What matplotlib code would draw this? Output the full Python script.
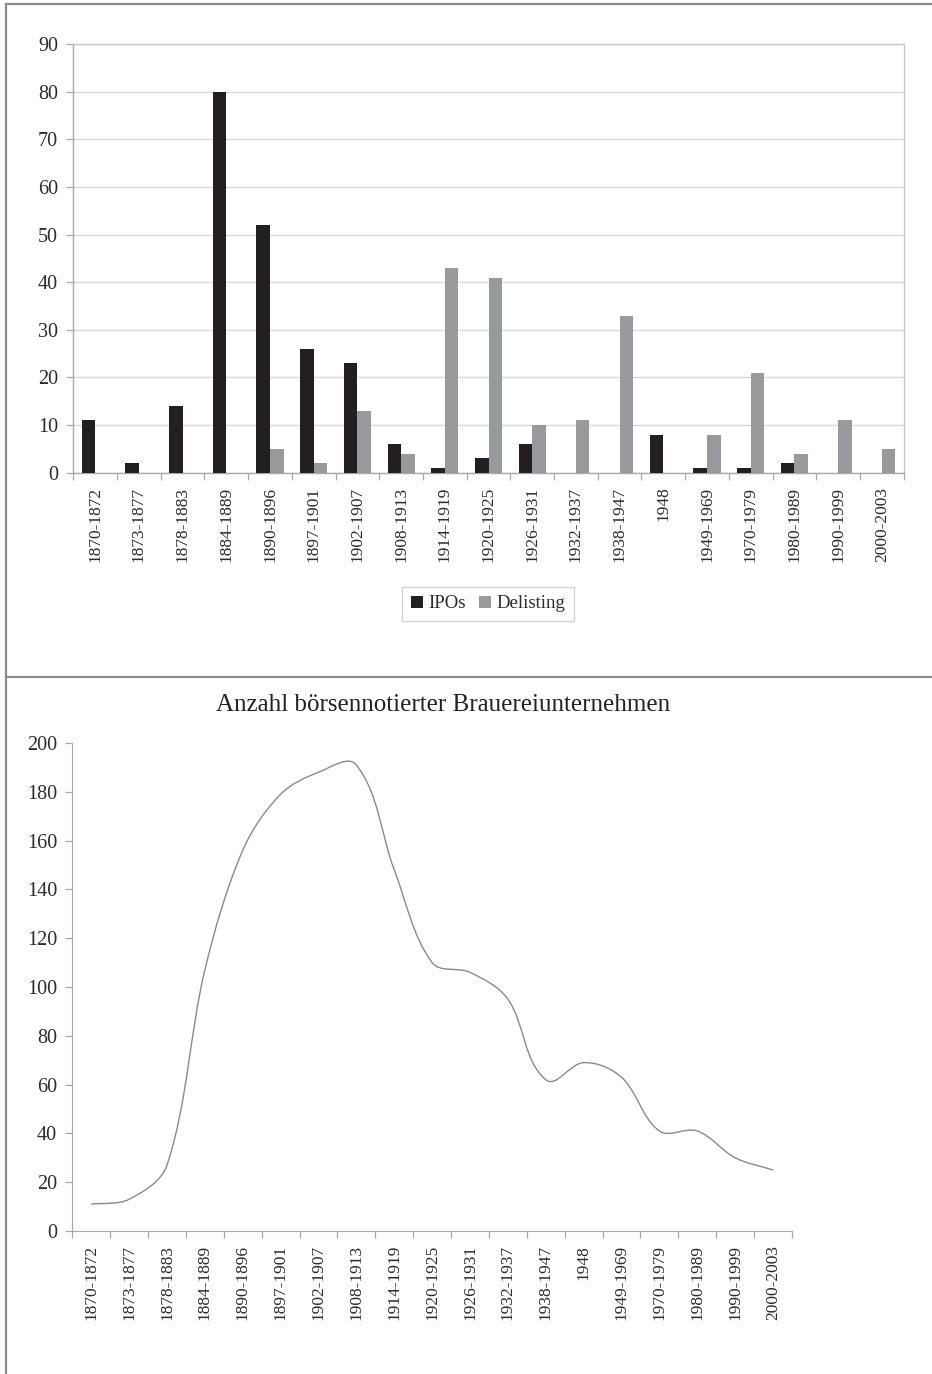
import matplotlib

matplotlib.use("Agg")
import matplotlib.pyplot as plt
import numpy as np
from matplotlib.lines import Line2D
from matplotlib.patches import PathPatch
from matplotlib.path import Path

plt.rcParams["font.family"] = ["Liberation Serif", "DejaVu Serif"]

periods = [
    "1870-1872", "1873-1877", "1878-1883", "1884-1889", "1890-1896",
    "1897-1901", "1902-1907", "1908-1913", "1914-1919", "1920-1925",
    "1926-1931", "1932-1937", "1938-1947", "1948", "1949-1969",
    "1970-1979", "1980-1989", "1990-1999", "2000-2003",
]
ipos = [11, 2, 14, 80, 52, 26, 23, 6, 1, 3, 6, 0, 0, 8, 1, 1, 2, 0, 0]
delistings = [0, 0, 0, 0, 5, 2, 13, 4, 43, 41, 10, 11, 33, 0, 8, 21, 4, 11, 5]
listed = [11, 13, 27, 107, 156, 179, 188, 191, 148, 110, 106, 95, 62, 69, 63, 41, 41, 30, 25]

IPO_COLOR = "#231f20"
DELIST_COLOR = "#98999d"
AXIS_GRAY = "#a8a8a8"
TEXT_COLOR = "#2b2b2b"
W, H = 932, 1374


def fig_rect(left, top, right, bottom):
    # pixel box -> figure fraction rect
    return [left / W, 1 - bottom / H, (right - left) / W, (bottom - top) / H]


def style_category_axis(ax, n):
    ax.set_xlim(-0.5, n - 0.5)
    ax.set_xticks(np.arange(n))
    ax.set_xticklabels(periods, rotation=90, va="top", ha="center",
                       fontsize=12.5, color=TEXT_COLOR)
    ax.set_xticks(np.arange(n + 1) - 0.5, minor=True)
    ax.tick_params(axis="x", which="major", length=0, pad=10)
    ax.tick_params(axis="x", which="minor", length=5, color=AXIS_GRAY, width=0.9)
    ax.tick_params(axis="y", length=5, color=AXIS_GRAY, width=0.9, pad=6,
                   labelsize=14.5, labelcolor=TEXT_COLOR)


def smooth_path(ax, xs, ys):
    # Bezier curve through every point; handles follow the neighbour chord
    # and are sized by each segment's on-screen length
    pts = ax.transData.transform(np.column_stack([xs, ys]).astype(float))
    n = len(pts)
    dirs = []
    for i in range(n):
        d = pts[min(i + 1, n - 1)] - pts[max(i - 1, 0)]
        dirs.append(d / np.hypot(*d))
    verts = [pts[0]]
    codes = [Path.MOVETO]
    for i in range(n - 1):
        seg = np.hypot(*(pts[i + 1] - pts[i])) / 3.0
        verts += [pts[i] + dirs[i] * seg, pts[i + 1] - dirs[i + 1] * seg, pts[i + 1]]
        codes += [Path.CURVE4] * 3
    verts = ax.transData.inverted().transform(np.array(verts))
    return Path(verts, codes)


fig = plt.figure(figsize=(W / 100, H / 100), dpi=100)

# panel frame
frame = dict(color="#8c8c8c", lw=1.6, transform=fig.transFigure)
fig.add_artist(Line2D([5.7 / W, 1], [1 - 4.3 / H] * 2, **frame))
fig.add_artist(Line2D([5.7 / W] * 2, [1 - 4.3 / H, 0], **frame))
fig.add_artist(Line2D([5.7 / W, 1], [1 - 677 / H] * 2, **frame))

# IPOs and delistings per period
ax1 = fig.add_axes(fig_rect(73.3, 44.3, 903.7, 472.7))
x = np.arange(len(periods))
bw = 0.31
ax1.bar(x - bw / 2, ipos, bw, color=IPO_COLOR, label="IPOs", zorder=3)
ax1.bar(x + bw / 2, delistings, bw, color=DELIST_COLOR, label="Delisting", zorder=3)
ax1.set_ylim(0, 90)
ax1.set_yticks(np.arange(0, 91, 10))
ax1.yaxis.grid(True, color="#d9d9d9", lw=1.0, zorder=0)
for side in ax1.spines.values():
    side.set_color("#c8c8c8")
    side.set_linewidth(1.0)
ax1.spines["left"].set_color(AXIS_GRAY)
ax1.spines["bottom"].set_color(AXIS_GRAY)
style_category_axis(ax1, len(periods))
leg = ax1.legend(loc="center", bbox_to_anchor=(488 / W, 1 - 604 / H),
                 bbox_transform=fig.transFigure, ncol=2, fontsize=13.5,
                 frameon=True, fancybox=False, handlelength=0.65, handleheight=0.65,
                 handletextpad=0.3, columnspacing=0.7, borderpad=0.45)
leg.get_frame().set_edgecolor("#c8c8c8")
leg.get_frame().set_linewidth(1.0)
for t in leg.get_texts():
    t.set_color(TEXT_COLOR)

# number of listed breweries
ax2 = fig.add_axes(fig_rect(72.3, 743, 792, 1231))
ax2.set_ylim(0, 200)
ax2.set_yticks(np.arange(0, 201, 20))
ax2.spines["top"].set_visible(False)
ax2.spines["right"].set_visible(False)
ax2.spines["left"].set_color(AXIS_GRAY)
ax2.spines["bottom"].set_color(AXIS_GRAY)
style_category_axis(ax2, len(periods))
ax2.add_patch(PathPatch(smooth_path(ax2, x, listed), fill=False,
                        edgecolor="#8a8a8a", lw=1.0, zorder=3))
fig.text(443 / W, 1 - 705 / H, "Anzahl börsennotierter Brauereiunternehmen",
         ha="center", va="center", fontsize=18, color="#222222")

fig.savefig("out.png", dpi=100)
